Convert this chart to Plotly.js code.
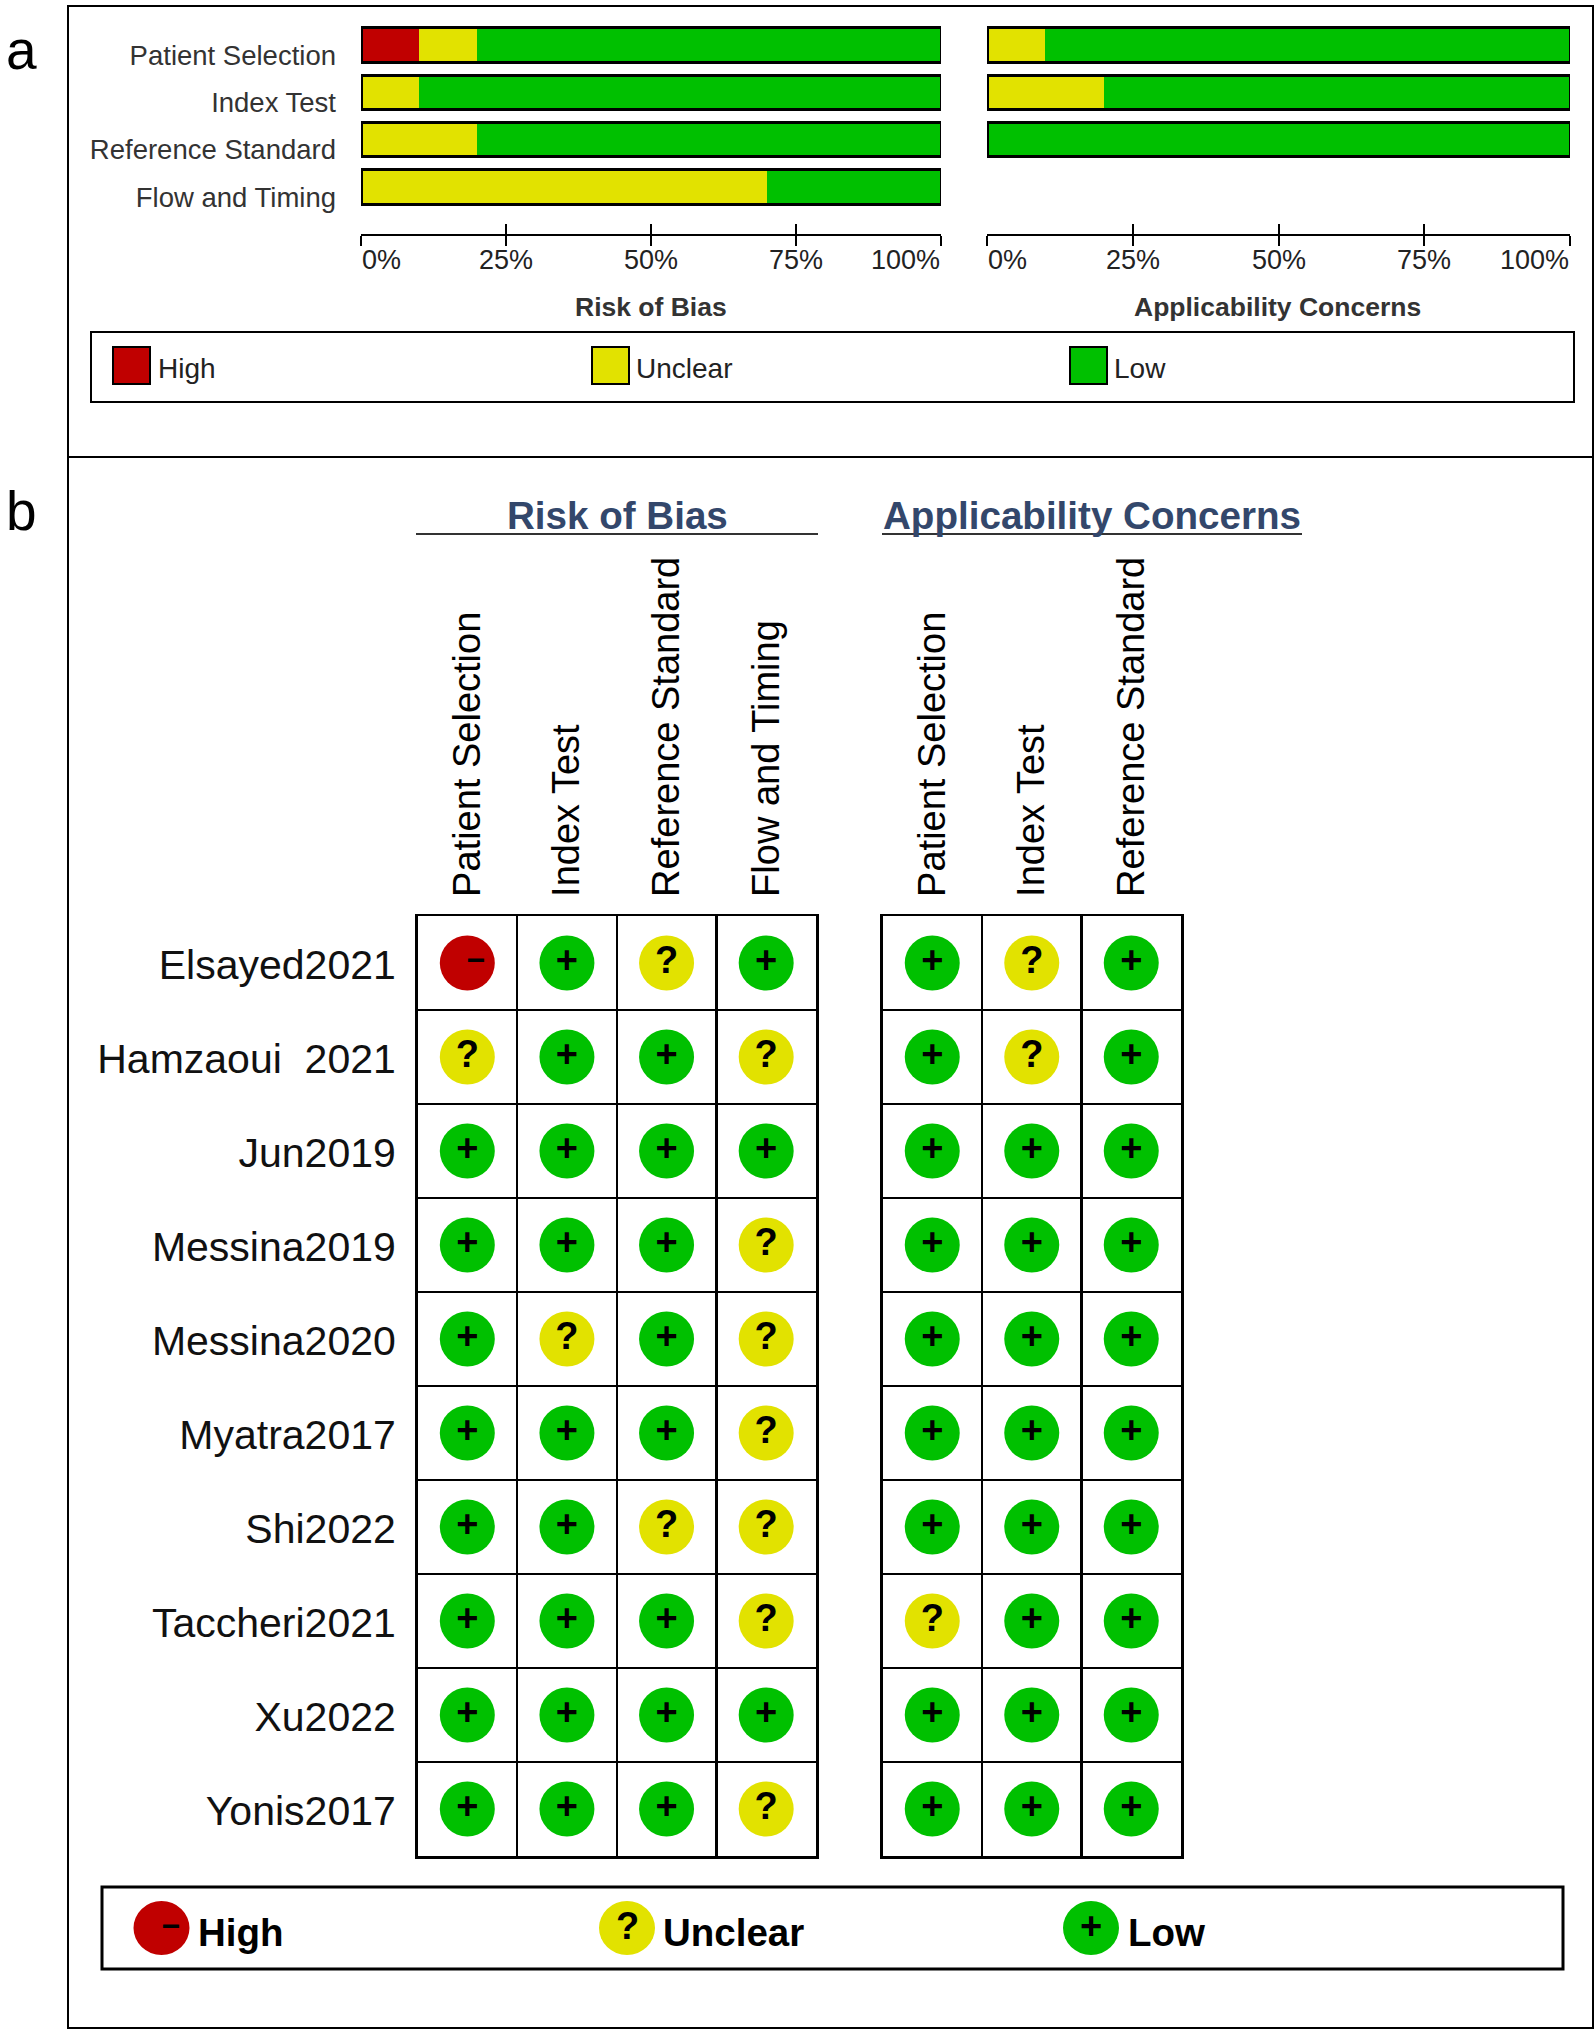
<!DOCTYPE html>
<html>
<head>
<meta charset="utf-8">
<script src="https://cdn.plot.ly/plotly-3.0.1.min.js"></script>
<style>body { margin: 0; background: #fff; }</style>
</head>
<body>
<div id="plot" style="width:1594px;height:2030px"></div>
<script>
const W = 1594, H = 2030;
const FONT = '"Liberation Sans", Arial, sans-serif';

const domains = ['Patient Selection', 'Index Test', 'Reference Standard', 'Flow and Timing'];
const pctTicks = [0, 25, 50, 75, 100];

// panel a, percent of studies
const rob_high = [10, 0, 0, 0];
const rob_unclear = [10, 10, 20, 70];
const rob_low = [80, 90, 80, 30];
const app_high = [0, 0, 0, null];
const app_unclear = [10, 20, 0, null];
const app_low = [90, 80, 100, null];
const rob_total = [100, 100, 100, 100];
const app_total = [100, 100, 100, null];

// panel b
const studies = ['Elsayed2021', 'Hamzaoui  2021', 'Jun2019', 'Messina2019', 'Messina2020',
    'Myatra2017', 'Shi2022', 'Taccheri2021', 'Xu2022', 'Yonis2017'];
const rob_patient = ['H', 'U', 'L', 'L', 'L', 'L', 'L', 'L', 'L', 'L'];
const rob_index = ['L', 'L', 'L', 'L', 'U', 'L', 'L', 'L', 'L', 'L'];
const rob_reference = ['U', 'L', 'L', 'L', 'L', 'L', 'U', 'L', 'L', 'L'];
const rob_flow = ['L', 'U', 'L', 'U', 'U', 'U', 'U', 'U', 'L', 'U'];
const app_patient = ['L', 'L', 'L', 'L', 'L', 'L', 'L', 'U', 'L', 'L'];
const app_index = ['U', 'U', 'L', 'L', 'L', 'L', 'L', 'L', 'L', 'L'];
const app_reference = ['L', 'L', 'L', 'L', 'L', 'L', 'L', 'L', 'L', 'L'];

const RED = '#C00000', YELLOW = '#E2E200', GREEN = '#00C000';
const colorOf = { H: RED, U: YELLOW, L: GREEN };
const signOf = { H: '\u00a0\u00a0\u2212', U: '?', L: '+' };
const signSize = { H: 32, U: 38, L: 38 };

function px(x) { return x / W; }
function py(y) { return 1 - y / H; }

function barTrace(vals, color, name, xa, ya) {
    return {
        type: 'bar', orientation: 'h', y: domains, x: vals, name: name,
        xaxis: xa, yaxis: ya, width: 0.72,
        marker: { color: color, line: { width: 0 } }, showlegend: false
    };
}

function outlineTrace(vals, xa, ya) {
    return {
        type: 'bar', orientation: 'h', y: domains, x: vals,
        xaxis: xa, yaxis: ya, width: 0.72,
        marker: { color: 'rgba(0,0,0,0)', line: { color: '#000', width: 3 } }, showlegend: false
    };
}

function dotTrace(col, vals, xa, ya) {
    return {
        type: 'scatter', mode: 'markers+text',
        x: vals.map(() => col), y: studies,
        xaxis: xa, yaxis: ya, cliponaxis: false,
        marker: { size: 55, color: vals.map(v => colorOf[v]), line: { width: 0 } },
        text: vals.map(v => signOf[v]), textposition: 'middle center',
        textfont: { family: FONT, size: vals.map(v => signSize[v]), color: '#000', weight: 'bold' },
        showlegend: false
    };
}

const traces = [
    barTrace(rob_high, RED, 'High', 'x', 'y'),
    barTrace(rob_unclear, YELLOW, 'Unclear', 'x', 'y'),
    barTrace(rob_low, GREEN, 'Low', 'x', 'y'),
    outlineTrace(rob_total, 'x2', 'y2'),
    barTrace(app_high, RED, 'High', 'x3', 'y3'),
    barTrace(app_unclear, YELLOW, 'Unclear', 'x3', 'y3'),
    barTrace(app_low, GREEN, 'Low', 'x3', 'y3'),
    outlineTrace(app_total, 'x4', 'y4'),
    dotTrace(domains[0], rob_patient, 'x5', 'y5'),
    dotTrace(domains[1], rob_index, 'x5', 'y5'),
    dotTrace(domains[2], rob_reference, 'x5', 'y5'),
    dotTrace(domains[3], rob_flow, 'x5', 'y5'),
    dotTrace(domains[0], app_patient, 'x6', 'y6'),
    dotTrace(domains[1], app_index, 'x6', 'y6'),
    dotTrace(domains[2], app_reference, 'x6', 'y6')
];

const axisY = 235;
function pctAxis(x0, x1, ticks, overlay) {
    const a = {
        domain: [px(x0), px(x1)], range: [0, 100], anchor: 'free', position: py(axisY),
        tickvals: pctTicks, showticklabels: false, ticks: ticks, ticklen: 10, tickwidth: 2,
        tickcolor: '#000', showline: true, linecolor: '#000', linewidth: 2,
        showgrid: false, zeroline: false, fixedrange: true
    };
    if (overlay) a.overlaying = overlay;
    return a;
}
function barYAxis(labels, overlay, anchor) {
    const a = {
        domain: [py(210.7), py(21.3)], type: 'category', categoryorder: 'array', categoryarray: domains,
        range: [3.5, -0.5], anchor: anchor, showgrid: false, zeroline: false, showline: false, ticks: '',
        showticklabels: labels, ticklabelstandoff: 24, ticklabelshift: -10,
        tickfont: { family: FONT, size: 27.5, color: '#333' }, fixedrange: true
    };
    if (overlay) a.overlaying = overlay;
    return a;
}
function tableX(x0, x1, cols, anchor) {
    return {
        domain: [px(x0), px(x1)], type: 'category', categoryorder: 'array', categoryarray: cols,
        range: [-0.5, cols.length - 0.5], anchor: anchor, side: 'top', tickangle: -90, tickson: 'boundaries',
        ticks: '', ticklabelstandoff: 9, tickfont: { family: FONT, size: 38, color: '#000' },
        showgrid: true, gridcolor: '#000', gridwidth: 2.5, showline: true, mirror: true,
        linecolor: '#000', linewidth: 2.5, zeroline: false, fixedrange: true
    };
}
function tableY(labels, anchor) {
    return {
        domain: [py(1856), py(916)], type: 'category', categoryorder: 'array', categoryarray: studies,
        range: [9.5, -0.5], anchor: anchor, tickson: 'boundaries', ticks: '', showticklabels: labels,
        ticklabelstandoff: 11, ticklabelshift: -2, tickfont: { family: FONT, size: 41, color: '#111' },
        showgrid: true, gridcolor: '#000', gridwidth: 2.5, showline: true, mirror: true,
        linecolor: '#000', linewidth: 2.5, zeroline: false, fixedrange: true
    };
}

const shapes = [];
const annotations = [];

function box(x0, y0, x1, y1, width, fill) {
    shapes.push({
        type: 'rect', xref: 'paper', yref: 'paper', x0: px(x0), x1: px(x1), y0: py(y0), y1: py(y1),
        line: { color: '#000', width: width }, fillcolor: fill || 'rgba(0,0,0,0)', layer: 'below'
    });
}
function hline(x0, x1, y, color, width) {
    shapes.push({
        type: 'line', xref: 'paper', yref: 'paper', x0: px(x0), x1: px(x1), y0: py(y), y1: py(y),
        line: { color: color, width: width }
    });
}
function label(text, x, y, size, opts) {
    opts = opts || {};
    annotations.push({
        text: opts.bold ? '<b>' + text + '</b>' : text, xref: 'paper', yref: 'paper', x: px(x), y: py(y),
        showarrow: false, xanchor: opts.anchor || 'left', yanchor: 'middle', borderpad: 0,
        font: { family: FONT, size: size, color: opts.color || '#000' }
    });
}
function dot(cx, cy, color) {
    shapes.push({
        type: 'circle', xref: 'paper', yref: 'paper', x0: px(cx - 28), x1: px(cx + 28),
        y0: py(cy + 27), y1: py(cy - 27), fillcolor: color, line: { width: 0 }
    });
}

// frames and panel letters
box(68, 6, 1593, 457, 2);
box(68, 457, 1593, 2028, 2);
label('a', 5, 50, 55);
label('b', 5, 511, 55);

// percent tick labels, ends aligned to the tick
['x', 'x3'].forEach(xa => {
    pctTicks.forEach(t => {
        annotations.push({
            text: t + '%', xref: xa, yref: 'paper', x: t, y: py(260), showarrow: false,
            xanchor: t === 0 ? 'left' : (t === 100 ? 'right' : 'center'), yanchor: 'middle', borderpad: 0,
            font: { family: FONT, size: 27, color: '#222' }
        });
    });
});
label('Risk of Bias', 651, 307, 26.5, { bold: true, anchor: 'center', color: '#333' });
label('Applicability Concerns', 1277, 307, 26.5, { bold: true, anchor: 'center', color: '#333' });

// panel a legend
box(91, 332, 1574, 402, 2);
[[113, RED, 157, 'High'], [592, YELLOW, 635, 'Unclear'], [1070, GREEN, 1113, 'Low']].forEach(k => {
    box(k[0], 347, k[0] + 37, 384, 2, k[1]);
    label(k[3], k[2], 368, 28, { color: '#222' });
});

// panel b headings
label('Risk of Bias', 617, 515, 38.6, { bold: true, anchor: 'center', color: '#33476B' });
hline(416, 818, 534, '#333', 2);
label('Applicability Concerns', 1092, 515, 38.6, { bold: true, anchor: 'center', color: '#33476B' });
hline(882, 1302, 534, '#333', 2);

// panel b legend
box(102, 1887, 1563, 1969, 3);
[[161.5, RED, 197, 'High', 'H'], [627, YELLOW, 662, 'Unclear', 'U'], [1091, GREEN, 1127, 'Low', 'L']].forEach(k => {
    dot(k[0], 1928, k[1]);
    label('<b>' + signOf[k[4]] + '</b>', k[0], 1926, signSize[k[4]], { anchor: 'center' });
    label(k[3], k[2], 1932, 38.5, { bold: true });
});

const layout = {
    width: W, height: H, margin: { l: 0, r: 0, t: 0, b: 0 },
    paper_bgcolor: '#fff', plot_bgcolor: 'rgba(0,0,0,0)',
    barmode: 'stack', font: { family: FONT }, showlegend: false,
    xaxis: pctAxis(361, 941, 'outside'),
    xaxis2: pctAxis(361, 941, 'inside', 'x'),
    xaxis3: pctAxis(987, 1570, 'outside'),
    xaxis4: pctAxis(987, 1570, 'inside', 'x3'),
    yaxis: barYAxis(true, null, 'x'),
    yaxis2: barYAxis(false, 'y', 'x2'),
    yaxis3: barYAxis(false, null, 'x3'),
    yaxis4: barYAxis(false, 'y3', 'x4'),
    xaxis5: tableX(417.5, 816, domains, 'y5'),
    yaxis5: tableY(true, 'x5'),
    xaxis6: tableX(882.5, 1181, domains.slice(0, 3), 'y6'),
    yaxis6: tableY(false, 'x6'),
    shapes: shapes, annotations: annotations
};

Plotly.newPlot('plot', traces, layout, { displayModeBar: false, staticPlot: true });
</script>
</body>
</html>
